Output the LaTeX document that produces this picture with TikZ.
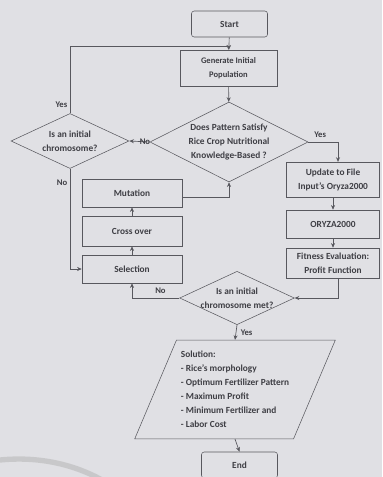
\documentclass[tikz,border=0pt]{standalone}
\usepackage{fontspec}
\setmainfont{Carlito}
\usetikzlibrary{shapes.geometric,arrows.meta}
\definecolor{paper}{RGB}{224,224,228}
\definecolor{ink}{RGB}{88,88,94}
\definecolor{txt}{RGB}{62,62,68}

\begin{document}
\begin{tikzpicture}[x=0.75pt,y=-0.75pt,
    >={Stealth[length=3.5pt,width=3pt]},
    every node/.style={font=\fontsize{7}{10.5}\selectfont\bfseries, text=txt},
    box/.style={draw=ink, fill=paper, inner sep=1pt, align=center,
                minimum width=75pt, minimum height=21pt},
    term/.style={box, rounded corners=2pt, minimum width=57pt, minimum height=19.5pt},
    decision/.style={diamond, aspect=2, draw=ink, fill=paper, inner sep=-8pt, align=center},
    lbl/.style={font=\fontsize{6.5}{8}\selectfont\bfseries},
    line/.style={draw=ink, line width=0.5pt}]

    % Paper
    \fill[paper] (0,0) rectangle (382,477);
    \useasboundingbox (0,0) rectangle (382,477);
    % page curl shadow
    \draw[gray!60, line width=4pt, opacity=0.5] (0,460) .. controls (40,456) and (75,465) .. (102,480);

    % Main column
    \node[term] (start) at (229.5,24) {Start};
    \node[box, minimum width=72.75pt, minimum height=27pt, font=\fontsize{6.4}{10.5}\selectfont\bfseries] (gen) at (228.5,68)
        {Generate Initial\\Population};
    \node[decision, minimum width=118.5pt, minimum height=60pt] (check) at (229,142)
        {Does Pattern Satisfy\\Rice Crop Nutritional\\Knowledge-Based ?};
    \node[decision, minimum width=88.5pt, minimum height=41.25pt] (init) at (70,141)
        {Is an initial\\chromosome?};

    % GA operators
    \node[box] (mut) at (132,193) {Mutation};
    \node[box, minimum height=22.5pt] (cross) at (132,231) {Cross over};
    \node[box] (sel) at (132,269) {Selection};

    % ORYZA side
    \node[box, minimum width=70pt, minimum height=26pt] (upd) at (333,179.5) {Update to File\\Input's Oryza2000};
    \node[box, minimum width=70pt] (oryza) at (333,224) {ORYZA2000};
    \node[box, minimum width=70pt, minimum height=22.5pt] (fit) at (333,263) {Fitness Evaluation:\\Profit Function};

    \node[decision, minimum width=86pt, minimum height=40pt] (met) at (237,298)
        {Is an initial\\chromosome met?};

    % Output
    \node[trapezium, trapezium left angle=64, trapezium right angle=116, trapezium stretches body,
          draw=ink, fill=paper, align=left, minimum width=149pt, minimum height=74pt] (sol) at (235,389.5)
        {Solution:\\- Rice's morphology\\- Optimum Fertilizer Pattern\\- Maximum Profit\\- Minimum Fertilizer and\\- Labor Cost};
    \node[term] (end) at (239.5,465) {End};

    % Connectors
    \coordinate (join) at (228.5,46);
    \draw[line,->] (start) -- (gen);
    \draw[line,->] (gen) -- (check);
    \draw[line,->] (check.west) -- (init.east) node[lbl, pos=0.72, right] {No};
    \draw[line,->] (init.north) |- (join) -- (gen.north);
    \node[lbl, left] at (72,105) {Yes};
    \draw[line,->] (init.south) |- (sel.west);
    \node[lbl, left] at (72,183) {No};
    \draw[line,->] (check.east) -| ([xshift=3.75pt]upd.north) node[lbl, pos=0.2, above] {Yes};
    \draw[line,->] (upd) -- (oryza);
    \draw[line,->] (oryza) -- (fit);
    \draw[line,->] ([xshift=3.75pt]fit.south) |- (met.east);
    \draw[line,->] (met.west) -| (sel.south) node[lbl, pos=0.2, above] {No};
    \draw[line,->] (sel) -- (cross);
    \draw[line,->] (cross) -- (mut);
    \draw[line,->] ([yshift=-3pt]mut.east) -| (check.south);
    \draw[line,->] (met.south) -- (sol.north) node[lbl, midway, right] {Yes};
    \draw[line,->] (sol.south) -- (end.north);

\end{tikzpicture}
\end{document}
